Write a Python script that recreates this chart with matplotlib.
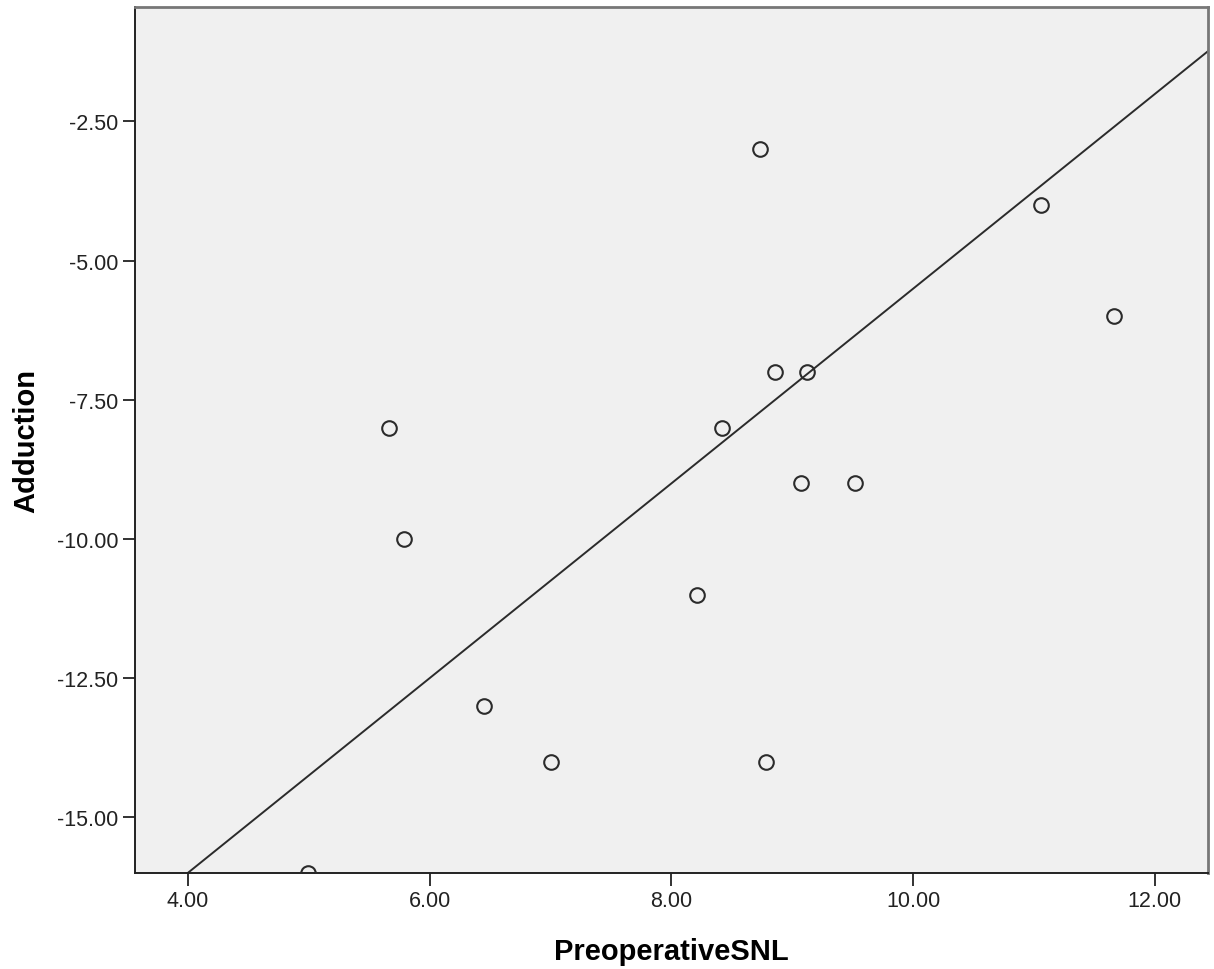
import numpy as np
import matplotlib.pyplot as plt

# values
snl = [4.99, 5.66, 5.79, 6.45, 7.00, 8.21, 8.42, 8.73, 8.78, 8.86, 9.07, 9.12, 9.52, 11.06, 11.66]
adduction = [-16, -8, -10, -13, -14, -11, -8, -3, -14, -7, -9, -7, -9, -4, -6]

# fit line as drawn in the reference (slope, intercept)
fit_slope = 1.7485
fit_intercept = -22.99

xticks = [4, 6, 8, 10, 12]
yticks = [-2.5, -5, -7.5, -10, -12.5, -15]

plt.rcParams['font.family'] = ['Liberation Sans', 'DejaVu Sans']

fig = plt.figure(figsize=(12.14, 9.7), dpi=100)
ax = fig.add_axes([0.111, 0.099, 0.884, 0.893])
ax.set_facecolor('#f0f0f0')

xlim = (3.559, 12.44)
ylim = (-16.0, -0.44)

xs = np.array(xlim)
ax.plot(xs, fit_slope * xs + fit_intercept, color='#2b2b2b', lw=1.4, zorder=2)
ax.plot(snl, adduction, 'o', mfc='none', mec='#2b2b2b', mew=1.5, ms=10.5, zorder=3)

ax.set_xlim(*xlim)
ax.set_ylim(*ylim)
ax.set_xticks(xticks)
ax.set_xticklabels(['%.2f' % v for v in xticks])
ax.set_yticks(yticks)
ax.set_yticklabels(['%.2f' % v for v in yticks])
ax.tick_params(direction='out', length=9, width=1.3, labelsize=15.5, pad=3, colors='#222222')

for s in ['left', 'bottom']:
    ax.spines[s].set_color('#222222')
    ax.spines[s].set_linewidth(1.4)
for s in ['top', 'right']:
    ax.spines[s].set_color('#777777')
    ax.spines[s].set_linewidth(2)

ax.set_xlabel('PreoperativeSNL', fontsize=21, fontweight='bold', labelpad=19)
ax.set_ylabel('Adduction', fontsize=21, fontweight='bold', labelpad=12)

fig.savefig('out.png', dpi=100)
